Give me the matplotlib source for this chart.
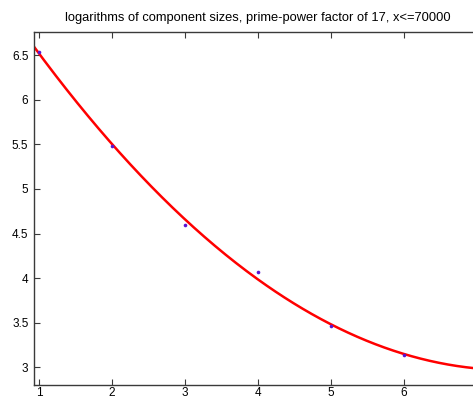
import numpy as np
import matplotlib
matplotlib.use("Agg")
import matplotlib.pyplot as plt

plt.rcParams["font.family"] = ["Liberation Sans", "DejaVu Sans"]

# log of component size for each exponent
k_vals = [1, 2, 3, 4, 5, 6]
log_sizes = [6.54, 5.48, 4.60, 4.07, 3.465, 3.14]

x_ticks = [1, 2, 3, 4, 5, 6]
y_ticks = [3, 3.5, 4, 4.5, 5, 5.5, 6, 6.5]
y_ticklabels = ["3", "3.5", "4", "4.5", "5", "5.5", "6", "6.5"]

title = "logarithms of component sizes, prime-power factor of 17, x<=70000"

# quadratic least-squares fit through the points
coef = np.polyfit(k_vals, log_sizes, 2)
xs = np.linspace(0.9, 7.1, 300)
ys = np.polyval(coef, xs)

fig = plt.figure(figsize=(4.73, 3.99), dpi=100)
ax = fig.add_axes([34 / 473, 14.3 / 399, 448 / 473, 352.7 / 399])

ax.plot(xs, ys, color="red", linewidth=1.8, zorder=2)
ax.plot(k_vals, log_sizes, linestyle="none", marker="o", markersize=2.6,
        color="#5a14d2", markeredgewidth=0, zorder=3)

ax.set_xlim(0.93, 7.07)
ax.set_ylim(2.805, 6.76)
ax.set_xticks(x_ticks)
ax.set_yticks(y_ticks)
ax.set_yticklabels(y_ticklabels)

for side in ["left", "bottom", "top", "right"]:
    ax.spines[side].set_color("#3a3a3a")
    ax.spines[side].set_linewidth(1.0)

ax.tick_params(direction="in", length=4, width=0.8, color="#3a3a3a",
               labelsize=8.5, top=True, right=True)
ax.tick_params(axis="x", pad=2)
ax.tick_params(axis="y", pad=4)

ax.set_title(title, fontsize=9.3, pad=8)

plt.savefig("out.png", dpi=100)
